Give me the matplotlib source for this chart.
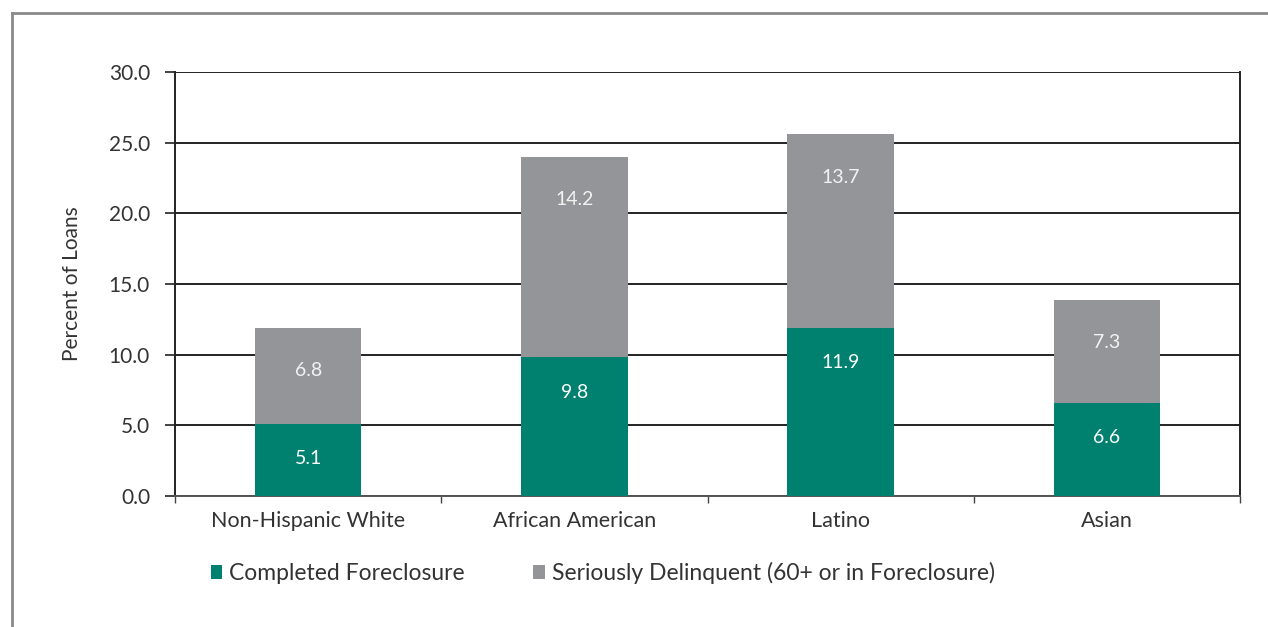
import matplotlib
matplotlib.use("Agg")
import matplotlib.pyplot as plt
from matplotlib.lines import Line2D
import numpy as np

categories = ["Non-Hispanic White", "African American", "Latino", "Asian"]
completed = [5.1, 9.8, 11.9, 6.6]
delinquent = [6.8, 14.2, 13.7, 7.3]
series_names = ["Completed Foreclosure", "Seriously Delinquent (60+ or in Foreclosure)"]
yticks = [0.0, 5.0, 10.0, 15.0, 20.0, 25.0, 30.0]

plt.rcParams['font.family'] = ['Lato', 'DejaVu Sans']

teal = "#00816f"
gray = "#949598"
textc = "#333333"

fig = plt.figure(figsize=(12.68, 6.27), dpi=100)
ax = fig.add_axes([175/1268, 1-496/627, (1240-175)/1268, (496-72)/627])

x = np.arange(len(categories))
w = 0.40
ax.bar(x, completed, width=w, color=teal, zorder=3, label=series_names[0])
tops = [c + d for c, d in zip(completed, delinquent)]
ax.bar(x, delinquent, width=w, bottom=completed, color=gray, zorder=3, label=series_names[1])

for i in range(len(categories)):
    ax.annotate(f"{completed[i]:.1f}", xy=(x[i], completed[i]), xytext=(0, -25),
                textcoords="offset points", ha="center", va="center",
                color="white", fontsize=14, zorder=4)
    ax.annotate(f"{delinquent[i]:.1f}", xy=(x[i], tops[i]), xytext=(0, -31),
                textcoords="offset points", ha="center", va="center",
                color="#f2f2f2", fontsize=14, zorder=4)

ax.set_xlim(-0.5, len(categories) - 0.5)
ax.set_ylim(0, 30)
ax.set_yticks(yticks)
ax.set_yticklabels([f"{t:.1f}" for t in yticks], fontsize=15, color=textc)
ax.yaxis.grid(True, color="#222222", linewidth=1.4, zorder=0)
ax.set_axisbelow(True)

ax.set_xticks(x)
ax.set_xticklabels(categories, fontsize=15.5, color=textc)
ax.tick_params(axis="x", length=0, pad=11)
ax.set_xticks(np.arange(-0.5, len(categories) + 0.5, 1.0), minor=True)
ax.tick_params(axis="x", which="minor", length=5, width=1, color="#444444", direction="out")
ax.tick_params(axis="y", length=7, width=1.2, color="#222222", pad=11)

for s in ["left", "right", "bottom"]:
    ax.spines[s].set_color("#222222")
    ax.spines[s].set_linewidth(1.4)
ax.spines["top"].set_visible(False)
ax.spines["bottom"].set_color("#555555")

ax.set_ylabel("Percent of Loans", fontsize=15, color=textc, labelpad=19)

leg = ax.legend(loc="upper left", bbox_to_anchor=(0.014, -0.107), ncol=2, frameon=False,
                fontsize=16.5, handlelength=0.52, handleheight=0.52, handletextpad=0.28,
                columnspacing=3.0)
for t in leg.get_texts():
    t.set_color(textc)

# outer frame lines
fig.add_artist(Line2D([12/1268, 1.0], [1-13/627, 1-13/627], transform=fig.transFigure,
                      color="#8a8a8a", linewidth=2))
fig.add_artist(Line2D([12/1268, 12/1268], [0, 1-13/627], transform=fig.transFigure,
                      color="#8a8a8a", linewidth=2))

fig.savefig("out.png", dpi=100, facecolor="white")
